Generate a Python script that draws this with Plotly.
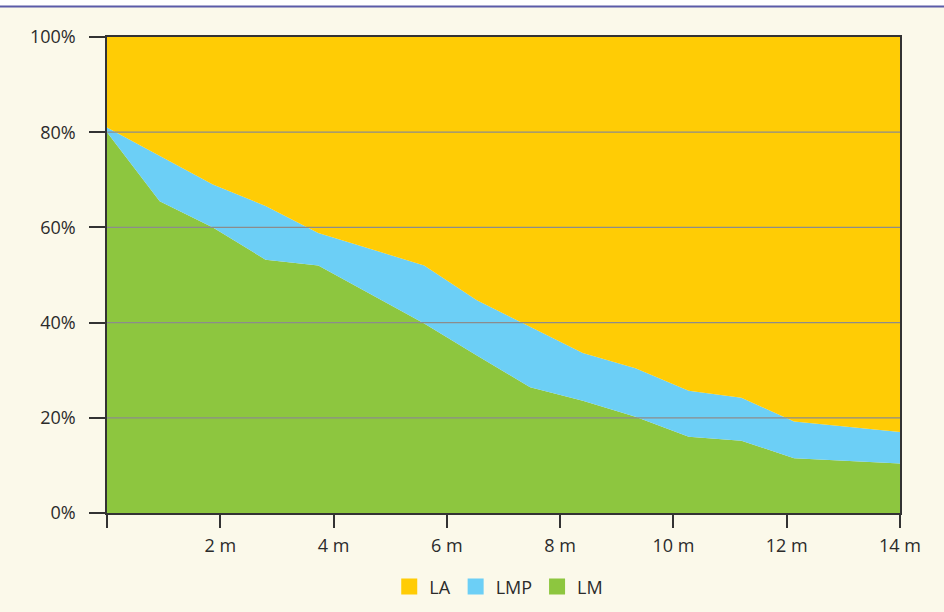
import plotly.graph_objects as go

# Distance (m)
distance = [0, 0.93, 1.87, 2.8, 3.73, 4.67, 5.6, 6.53, 7.47, 8.4, 9.33, 10.27, 11.2, 12.13, 13.07, 14]
# LM share (%)
lm = [80, 65.5, 60, 53.2, 52, 45.8, 39.8, 33.1, 26.4, 23.6, 20.2, 16.0, 15.2, 11.5, 10.95, 10.4]
# LM + LMP cumulative top (%)
lm_lmp_top = [81, 75, 69, 64.5, 58.8, 55.4, 52, 44.7, 39.1, 33.6, 30.4, 25.7, 24.2, 19.2, 18.1, 17.0]
lmp = [round(t - g, 2) for t, g in zip(lm_lmp_top, lm)]
la = [round(100 - t, 2) for t in lm_lmp_top]

x_tickvals = [0, 2, 4, 6, 8, 10, 12, 14]
x_ticktext = ["", "2 m", "4 m", "6 m", "8 m", "10 m", "12 m", "14 m"]
y_tickvals = [0, 20, 40, 60, 80, 100]
y_ticktext = ["0%", "20%", "40%", "60%", "80%", "100%"]
grid_vals = [20, 40, 60, 80]

series = [("LM", lm, "#8DC63F"), ("LMP", lmp, "#6CCFF6"), ("LA", la, "#FFCC05")]

BG = "#FBF9EA"
TXT = "#2b2b2b"
FONT = "Open Sans"
FS = 18

fig = go.Figure()
for name, vals, col in series:
    fig.add_trace(go.Scatter(
        x=distance, y=vals, name=name, stackgroup="one",
        mode="lines", line=dict(width=0, color=col), fillcolor=col,
        showlegend=False, hoverinfo="skip"))

for name, vals, col in reversed(series):
    fig.add_trace(go.Scatter(
        x=[None], y=[None], name=name, mode="markers",
        marker=dict(symbol="square", size=17, color=col, line=dict(width=0)),
        showlegend=True))

shapes = []
for g in grid_vals:
    shapes.append(dict(type="line", xref="paper", yref="y", x0=0, x1=1, y0=g, y1=g,
                       line=dict(color="#8c8c8c", width=1.3), layer="above"))
# top band: white strip and purple rule
shapes.append(dict(type="rect", xref="paper", yref="paper", x0=-0.2, x1=1.1,
                   y0=1.064, y1=1.2, fillcolor="white", line=dict(width=0), layer="below"))
shapes.append(dict(type="line", xref="paper", yref="paper", x0=-0.2, x1=1.1,
                   y0=1.064, y1=1.064, line=dict(color="#5b5ba8", width=2)))

fig.update_layout(
    width=944, height=612,
    margin=dict(l=107, r=44, t=37, b=99, autoexpand=False),
    paper_bgcolor=BG, plot_bgcolor=BG,
    font=dict(family=FONT, size=FS, color=TXT),
    hovermode=False,
    shapes=shapes,
    legend=dict(orientation="h", x=0.494, xanchor="center", xref="paper",
                y=0.041, yanchor="middle", yref="container",
                traceorder="normal",
                font=dict(family=FONT, size=FS, color=TXT), bgcolor="rgba(0,0,0,0)",
                itemclick=False, itemdoubleclick=False),
    xaxis=dict(range=[0, 14], tickvals=x_tickvals, ticktext=x_ticktext,
               showgrid=False, zeroline=False, showline=True, linecolor="#333333",
               linewidth=1.5, mirror=True, ticks="outside", ticklen=13, tickwidth=1.5,
               tickcolor="#333333", layer="above traces", ticklabelstandoff=3,
               tickfont=dict(family=FONT, size=FS, color=TXT)),
    yaxis=dict(range=[0, 100], tickvals=y_tickvals, ticktext=y_ticktext,
               showgrid=False, zeroline=False, showline=True, linecolor="#333333",
               linewidth=1.5, mirror=True, ticks="outside", ticklen=16, tickwidth=1.5,
               tickcolor="#333333", layer="above traces", ticklabelstandoff=10,
               tickfont=dict(family=FONT, size=FS, color=TXT)),
)

fig.write_html("out.html", config={"displayModeBar": False},
               post_script="document.body.style.margin='0';document.body.style.overflow='hidden';")
